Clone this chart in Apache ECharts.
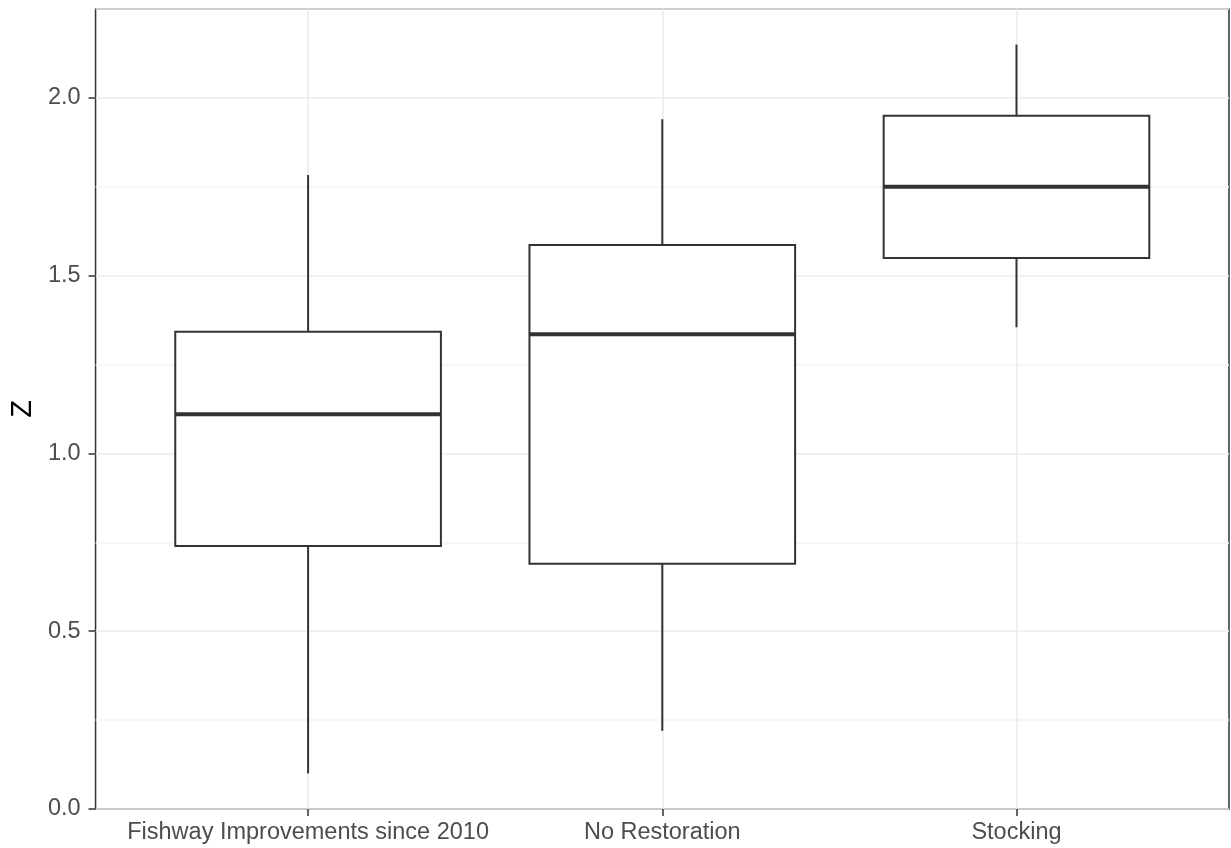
<!DOCTYPE html>
<html>
<head>
<meta charset="utf-8">
<script src="https://cdn.jsdelivr.net/npm/echarts@6/dist/echarts.min.js"></script>
<style>html,body{margin:0;padding:0;background:#fff}#chart{width:1231px;height:848px}</style>
</head>
<body>
<div id="chart"></div>
<script>
const categories = ['Fishway Improvements since 2010', 'No Restoration', 'Stocking'];
const lowWhisker = [0.10, 0.22, 1.355];
const q1 = [0.74, 0.69, 1.55];
const median = [1.11, 1.335, 1.75];
const q3 = [1.342, 1.586, 1.95];
const highWhisker = [1.783, 1.94, 2.15];
const yTicks = [0, 0.5, 1.0, 1.5, 2.0];
const categoryPositions = [1, 2, 3];

const FONT = 'Liberation Sans, Arial, sans-serif';
const boxData = categories.map((c, i) => [categoryPositions[i], lowWhisker[i], q1[i], median[i], q3[i], highWhisker[i]]);

const chart = echarts.init(document.getElementById('chart'), null, {renderer: 'canvas'});
chart.setOption({
  animation: false,
  backgroundColor: '#ffffff',
  grid: {left: 93, right: 2, top: 9, bottom: 39, show: true, borderColor: '#333333', borderWidth: 1.5, backgroundColor: 'transparent'},
  xAxis: {
    type: 'value', min: 0.4, max: 3.6,
    axisLine: {show: false},
    axisTick: {show: true, customValues: categoryPositions, length: 7, lineStyle: {color: '#333333', width: 1.5}},
    axisLabel: {show: true, customValues: categoryPositions, margin: 12, fontSize: 23.5, color: '#4D4D4D', fontFamily: FONT,
      formatter: v => categories[Math.round(v) - 1] || ''},
    splitLine: {show: true, lineStyle: {color: '#EBEBEB', width: 1.5}}
  },
  yAxis: [
    {
      type: 'value', min: 0, max: 2.25, interval: 0.25, position: 'left',
      axisLine: {show: false}, axisTick: {show: false}, axisLabel: {show: false},
      splitLine: {show: true, lineStyle: {color: ['#EBEBEB', '#F3F3F3'], width: 1.5}}
    },
    {
      type: 'value', min: 0, max: 2.25, position: 'left',
      axisLine: {show: false},
      axisTick: {show: true, customValues: yTicks, length: 7, lineStyle: {color: '#333333', width: 1.5}},
      axisLabel: {show: true, customValues: yTicks, margin: 15, fontSize: 23.5, color: '#4D4D4D', fontFamily: FONT,
        formatter: v => v.toFixed(1)},
      splitLine: {show: false},
      name: 'Z', nameLocation: 'middle', nameGap: 51,
      nameTextStyle: {fontSize: 29, color: '#000000', fontFamily: FONT}
    }
  ],
  series: [{
    type: 'custom',
    xAxisIndex: 0, yAxisIndex: 0,
    encode: {x: 0, y: [1, 2, 3, 4, 5]},
    data: boxData,
    z: 5,
    renderItem: function (params, api) {
      const x = api.value(0);
      const pLow = api.coord([x, api.value(1)]);
      const pQ1 = api.coord([x, api.value(2)]);
      const pMed = api.coord([x, api.value(3)]);
      const pQ3 = api.coord([x, api.value(4)]);
      const pHigh = api.coord([x, api.value(5)]);
      const halfW = api.size([0.75, 0])[0] / 2;
      const st = {stroke: '#333333', lineWidth: 2, fill: null};
      return {
        type: 'group',
        children: [
          {type: 'line', shape: {x1: pLow[0], y1: pLow[1], x2: pQ1[0], y2: pQ1[1]}, style: st},
          {type: 'line', shape: {x1: pQ3[0], y1: pQ3[1], x2: pHigh[0], y2: pHigh[1]}, style: st},
          {type: 'rect', shape: {x: pQ1[0] - halfW, y: pQ3[1], width: 2 * halfW, height: pQ1[1] - pQ3[1]},
            style: {fill: '#ffffff', stroke: '#333333', lineWidth: 2}},
          {type: 'line', shape: {x1: pMed[0] - halfW, y1: pMed[1], x2: pMed[0] + halfW, y2: pMed[1]},
            style: {stroke: '#333333', lineWidth: 4}}
        ]
      };
    }
  }]
});
</script>
</body>
</html>
